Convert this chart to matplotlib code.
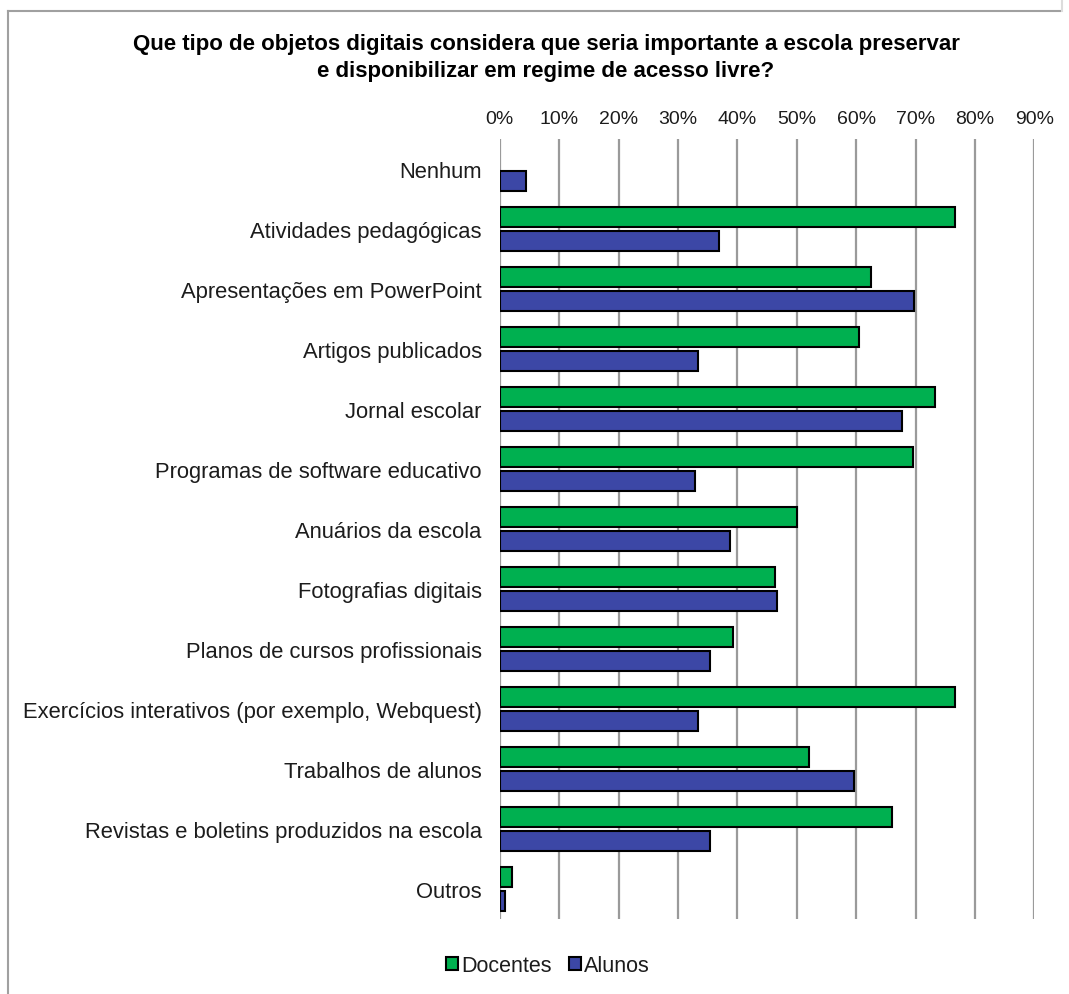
import matplotlib
matplotlib.use("Agg")
import matplotlib.pyplot as plt
from matplotlib.lines import Line2D
from matplotlib.patches import Patch
from matplotlib.ticker import PercentFormatter
import numpy as np

plt.rcParams['font.family'] = ['Liberation Sans', 'DejaVu Sans']

title = ("Que tipo de objetos digitais considera que seria importante a escola preservar\n"
         "e disponibilizar em regime de acesso livre?")

categories = [
    "Nenhum",
    "Atividades pedagógicas",
    "Apresentações em PowerPoint",
    "Artigos publicados",
    "Jornal escolar",
    "Programas de software educativo",
    "Anuários da escola",
    "Fotografias digitais",
    "Planos de cursos profissionais",
    "Exercícios interativos (por exemplo, Webquest)",
    "Trabalhos de alunos",
    "Revistas e boletins produzidos na escola",
    "Outros",
]

# share of respondents, in percent (no Docentes bar for "Nenhum")
docentes = [0.0, 76.7, 62.5, 60.5, 73.2, 69.5, 50.1, 46.4, 39.3, 76.6, 52.0, 66.1, 2.1]
alunos = [4.5, 36.9, 69.8, 33.4, 67.7, 32.8, 38.7, 46.7, 35.4, 33.4, 59.7, 35.4, 0.9]

series_names = ["Docentes", "Alunos"]
x_ticks = [0, 10, 20, 30, 40, 50, 60, 70, 80, 90]

GREEN = "#00B050"
BLUE = "#3C47A6"
GRID = "#9a9a9a"
TEXT = "#1c1c1c"

W, H = 1069, 995
fig = plt.figure(figsize=(W / 100, H / 100), dpi=100)
fig.patch.set_facecolor("white")

ax = fig.add_axes([499.7 / W, 1 - 920 / H, (1034.3 - 499.7) / W, (920 - 140) / H])

y = np.arange(len(categories))
h = 0.333
off = 0.2
doc_vals = np.array(docentes)
alu_vals = np.array(alunos)
mask = doc_vals > 0
ax.barh(y[mask] - off, doc_vals[mask], height=h, color=GREEN,
        edgecolor="black", linewidth=1.5, zorder=3)
ax.barh(y + off, alu_vals, height=h, color=BLUE,
        edgecolor="black", linewidth=1.5, zorder=3)

ax.set_xlim(0, 90)
ax.set_ylim(len(categories) - 0.5, -0.5)
ax.set_xticks(x_ticks)
ax.xaxis.set_major_formatter(PercentFormatter(decimals=0))
ax.xaxis.tick_top()
ax.set_yticks(y)
ax.set_yticklabels(categories)
ax.tick_params(axis="x", length=0, pad=9, labelsize=14, labelcolor=TEXT)
ax.tick_params(axis="y", length=0, pad=13, labelsize=15.8, labelcolor=TEXT)
ax.grid(axis="x", color=GRID, linewidth=1.6, zorder=0)
for s in ax.spines.values():
    s.set_visible(False)

fig.text(546 / W, 1 - 58 / H, title, ha="center", va="center",
         fontsize=16, fontweight="bold", color="black", linespacing=1.4)

handles = [Patch(facecolor=GREEN, edgecolor="black", linewidth=1.5),
           Patch(facecolor=BLUE, edgecolor="black", linewidth=1.5)]
fig.legend(handles, series_names, loc="center",
           bbox_to_anchor=(548 / W, 1 - 967 / H), ncol=2, frameon=False,
           fontsize=15.5, handlelength=0.55, handleheight=0.55,
           handletextpad=0.15, columnspacing=0.8, labelcolor=TEXT)

# chart-area frame
fig.add_artist(Line2D([8 / W, 1060 / W], [1 - 12 / H, 1 - 12 / H],
                      color="#a0a0a0", linewidth=1.5, transform=fig.transFigure))
fig.add_artist(Line2D([8 / W, 8 / W], [1 - 12 / H, 0], color="#a0a0a0",
                      linewidth=1.5, transform=fig.transFigure))
fig.add_artist(Line2D([1062 / W, 1062 / W], [1, 1 - 12 / H], color="#dcdcdc",
                      linewidth=1.5, transform=fig.transFigure))

fig.savefig("out.png", dpi=100, facecolor="white")
